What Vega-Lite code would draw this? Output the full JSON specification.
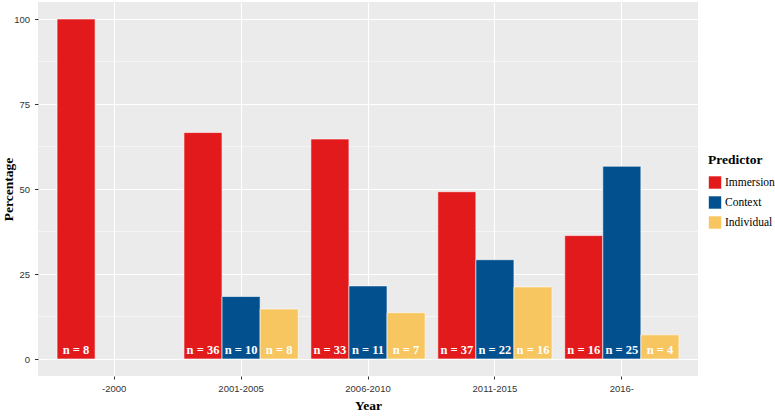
{
  "$schema": "https://vega.github.io/schema/vega-lite/v6.json",
  "autosize": "none",
  "width": 660,
  "height": 374,
  "padding": {"left": 38, "top": 2, "right": 77, "bottom": 41},
  "background": "white",
  "config": {
    "view": {"fill": "#EBEBEB", "stroke": null},
    "font": "Liberation Sans"
  },
  "datasets": {
    "bars": [
      {"year": "-2000", "predictor": "Immersion", "pct": 100, "label": "n = 8"},
      {"year": "2001-2005", "predictor": "Immersion", "pct": 66.6, "label": "n = 36"},
      {"year": "2001-2005", "predictor": "Context", "pct": 18.4, "label": "n = 10"},
      {"year": "2001-2005", "predictor": "Individual", "pct": 14.7, "label": "n = 8"},
      {"year": "2006-2010", "predictor": "Immersion", "pct": 64.7, "label": "n = 33"},
      {"year": "2006-2010", "predictor": "Context", "pct": 21.5, "label": "n = 11"},
      {"year": "2006-2010", "predictor": "Individual", "pct": 13.6, "label": "n = 7"},
      {"year": "2011-2015", "predictor": "Immersion", "pct": 49.2, "label": "n = 37"},
      {"year": "2011-2015", "predictor": "Context", "pct": 29.2, "label": "n = 22"},
      {"year": "2011-2015", "predictor": "Individual", "pct": 21.2, "label": "n = 16"},
      {"year": "2016-", "predictor": "Immersion", "pct": 36.3, "label": "n = 16"},
      {"year": "2016-", "predictor": "Context", "pct": 56.7, "label": "n = 25"},
      {"year": "2016-", "predictor": "Individual", "pct": 7.1, "label": "n = 4"}
    ],
    "minor": [{"v": 12.5}, {"v": 37.5}, {"v": 62.5}, {"v": 87.5}]
  },
  "layer": [
    {
      "data": {"name": "minor"},
      "mark": {"type": "rule", "color": "white", "strokeWidth": 0.5},
      "encoding": {
        "y": {
          "field": "v",
          "type": "quantitative",
          "scale": {"domain": [-5, 105], "nice": false, "zero": false},
          "axis": {
            "title": "Percentage",
            "values": [0, 25, 50, 75, 100],
            "grid": true,
            "gridColor": "white",
            "gridWidth": 1.1,
            "domain": false,
            "tickSize": 3.5,
            "tickColor": "#333333",
            "labelFontSize": 9.5,
            "labelColor": "#333333",
            "labelPadding": 5,
            "titleFont": "Liberation Serif",
            "titleFontSize": 13.5,
            "titleFontWeight": "bold",
            "titleColor": "black",
            "titleX": -30,
            "titleBaseline": "middle"
          }
        }
      }
    },
    {
      "data": {"name": "bars"},
      "mark": {"type": "bar", "stroke": "white", "strokeWidth": 0.6},
      "encoding": {
        "x": {
          "field": "year",
          "type": "nominal",
          "sort": ["-2000", "2001-2005", "2006-2010", "2011-2015", "2016-"],
          "scale": {"paddingInner": 0.1, "paddingOuter": 0.15},
          "axis": {
            "title": "Year",
            "labelAngle": 0,
            "grid": true,
            "bandPosition": 0.5,
            "gridColor": "white",
            "gridWidth": 1.1,
            "domain": false,
            "tickSize": 3,
            "tickColor": "#333333",
            "labelFontSize": 9.5,
            "labelColor": "#333333",
            "labelPadding": 4,
            "titleFont": "Liberation Serif",
            "titleFontSize": 13.5,
            "titleFontWeight": "bold",
            "titleColor": "black",
            "titlePadding": 6
          }
        },
        "xOffset": {
          "field": "predictor",
          "type": "nominal",
          "scale": {"domain": ["Immersion", "Context", "Individual"]}
        },
        "y": {
          "field": "pct",
          "type": "quantitative",
          "title": "Percentage"
        },
        "color": {
          "field": "predictor",
          "type": "nominal",
          "scale": {
            "domain": ["Immersion", "Context", "Individual"],
            "range": ["#E31A1C", "#03508F", "#F7C660"]
          },
          "legend": {
            "title": "Predictor",
            "orient": "none",
            "legendX": 670,
            "legendY": 151,
            "titleFont": "Liberation Serif",
            "titleFontSize": 13.5,
            "titleFontWeight": "bold",
            "titleColor": "black",
            "titlePadding": 9,
            "labelFont": "Liberation Serif",
            "labelFontSize": 11.5,
            "labelColor": "black",
            "labelOffset": 3,
            "symbolType": "square",
            "symbolSize": 169,
            "symbolStrokeColor": "white",
            "symbolStrokeWidth": 0.6,
            "symbolOpacity": 1,
            "rowPadding": 4
          }
        }
      }
    },
    {
      "data": {"name": "bars"},
      "mark": {
        "type": "text",
        "color": "white",
        "font": "Liberation Serif",
        "fontWeight": "bold",
        "fontSize": 12.5,
        "baseline": "middle",
        "dy": -9
      },
      "encoding": {
        "x": {"field": "year", "type": "nominal", "sort": ["-2000", "2001-2005", "2006-2010", "2011-2015", "2016-"]},
        "xOffset": {"field": "predictor", "type": "nominal", "scale": {"domain": ["Immersion", "Context", "Individual"]}},
        "y": {"datum": 0},
        "text": {"field": "label"}
      }
    }
  ]
}
